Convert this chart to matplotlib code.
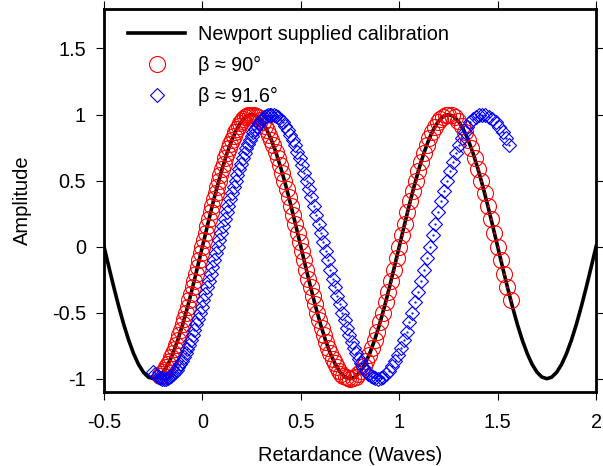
import numpy as np
import matplotlib
matplotlib.use("Agg")
import matplotlib.pyplot as plt
from matplotlib.ticker import FormatStrFormatter

plt.rcParams['font.family'] = ['Liberation Sans', 'DejaVu Sans']
plt.rcParams['axes.unicode_minus'] = False

# Newport supplied calibration curve (sampled every 0.025 waves)
cal_x = np.linspace(-0.5, 2.0, 101)
cal_y = [0, -.156, -.309, -.454, -.588, -.707, -.809, -.891, -.951, -.988,
         -1, -.988, -.951, -.891, -.809, -.707, -.588, -.454, -.309, -.156,
         0, .156, .309, .454, .588, .707, .809, .891, .951, .988,
         1, .988, .951, .891, .809, .707, .588, .454, .309, .156,
         0, -.156, -.309, -.454, -.588, -.707, -.809, -.891, -.951, -.988,
         -1, -.988, -.951, -.891, -.809, -.707, -.588, -.454, -.309, -.156,
         0, .156, .309, .454, .588, .707, .809, .891, .951, .988,
         1, .988, .951, .891, .809, .707, .588, .454, .309, .156,
         0, -.156, -.309, -.454, -.588, -.707, -.809, -.891, -.951, -.988,
         -1, -.988, -.951, -.891, -.809, -.707, -.588, -.454, -.309, -.156,
         0]

# beta ~ 90 deg measurement
red_x = [-.2167, -.2083, -.2000, -.1917, -.1833, -.1750, -.1667, -.1583, -.1500, -.1417,
         -.1333, -.1250, -.1167, -.1083, -.1000, -.0917, -.0833, -.0750, -.0667, -.0583,
         -.0500, -.0417, -.0333, -.0250, -.0167, -.0083, 0, .0083, .0167, .0250,
         .0333, .0417, .0500, .0583, .0667, .0750, .0833, .0917, .1000, .1083,
         .1167, .1250, .1333, .1417, .1500, .1583, .1667, .1750, .1833, .1917,
         .2000, .2083, .2167, .2250, .2333, .2417, .2500,
         .2611, .2722, .2833, .2944, .3056, .3167, .3278, .3389, .3500, .3611,
         .3722, .3833, .3944, .4056, .4167, .4278, .4389, .4500, .4611, .4722,
         .4833, .4944, .5056, .5167, .5278, .5389, .5500, .5611, .5722, .5833,
         .5944, .6056, .6167, .6278, .6389, .6500, .6611, .6722, .6833, .6944,
         .7056, .7167, .7278, .7389, .7500,
         .7639, .7778, .7917, .8056, .8194, .8333, .8472, .8611, .8750, .8889,
         .9028, .9167, .9306, .9444, .9583, .9722, .9861, 1.0, 1.0139, 1.0278,
         1.0417, 1.0556, 1.0694, 1.0833, 1.0972, 1.1111, 1.125, 1.1389, 1.1528, 1.1667,
         1.1806, 1.1944, 1.2083, 1.2222, 1.2361, 1.25,
         1.2667, 1.2833, 1.3, 1.3167, 1.3333, 1.35, 1.3667, 1.3833, 1.4, 1.4167,
         1.4333, 1.45, 1.4667, 1.4833, 1.5, 1.5167, 1.5333, 1.55, 1.5667]
red_y = [-.978, -.966, -.951, -.934, -.914, -.891, -.866, -.839, -.809, -.777,
         -.743, -.707, -.669, -.629, -.588, -.545, -.5, -.454, -.407, -.358,
         -.309, -.259, -.208, -.156, -.105, -.052, 0, .052, .105, .156,
         .208, .259, .309, .358, .407, .454, .5, .545, .588, .629,
         .669, .707, .743, .777, .809, .839, .866, .891, .914, .934,
         .951, .966, .978, .988, .995, .999, 1.0,
         .998, .990, .978, .961, .940, .914, .883, .848, .809, .766,
         .719, .669, .616, .559, .5, .438, .375, .309, .242, .174,
         .105, .035, -.035, -.105, -.174, -.242, -.309, -.375, -.438, -.5,
         -.559, -.616, -.669, -.719, -.766, -.809, -.848, -.883, -.914, -.940,
         -.961, -.978, -.990, -.998, -1.0,
         -.996, -.985, -.966, -.940, -.906, -.866, -.819, -.766, -.707, -.643,
         -.574, -.5, -.423, -.342, -.259, -.174, -.087, 0, .087, .174,
         .259, .342, .423, .5, .574, .643, .707, .766, .819, .866,
         .906, .940, .966, .985, .996, 1.0,
         .995, .978, .951, .914, .866, .809, .743, .669, .588, .5,
         .407, .309, .208, .105, 0, -.105, -.208, -.309, -.407]

# beta ~ 91.6 deg measurement
blue_x = [-.2495, -.2404, -.2313, -.2223, -.2132, -.2041, -.1950, -.1859, -.1768, -.1678,
          -.1587, -.1496, -.1405, -.1314, -.1223, -.1133, -.1042, -.0951, -.0860, -.0769,
          -.0678, -.0588, -.0497, -.0406, -.0315, -.0224, -.0133, -.0043, .0048, .0139,
          .0230, .0321, .0412, .0503, .0593, .0684, .0775, .0866, .0957, .1048,
          .1138, .1229, .1320, .1411, .1502, .1593, .1683, .1774, .1865, .1956,
          .2047, .2138, .2228, .2319, .2410, .2501, .2592, .2683, .2773, .2864,
          .2955, .3046, .3137, .3228, .3318, .3409, .3500,
          .362, .374, .386, .398, .410, .422, .434, .446, .458, .470,
          .482, .494, .506, .518, .530, .542, .554, .566, .578, .590,
          .602, .614, .626, .638, .650, .662, .674, .686, .698, .710,
          .722, .734, .746, .758, .770, .782, .794, .806, .818, .830,
          .842, .854, .866, .878, .890,
          .905, .919, .934, .949, .964, .978, .993, 1.008, 1.023, 1.037,
          1.052, 1.067, 1.081, 1.096, 1.111, 1.126, 1.140, 1.155, 1.170, 1.184,
          1.199, 1.214, 1.229, 1.243, 1.258, 1.273, 1.288, 1.302, 1.317, 1.332,
          1.346, 1.361, 1.376, 1.391, 1.405, 1.420,
          1.4375, 1.455, 1.4725, 1.49, 1.5075, 1.525, 1.5425, 1.56]
blue_y = [-.951, -.966, -.978, -.988, -.995, -.999, -1.0, -.999, -.995, -.988,
          -.978, -.966, -.951, -.934, -.914, -.891, -.866, -.839, -.809, -.777,
          -.743, -.707, -.669, -.629, -.588, -.545, -.5, -.454, -.407, -.358,
          -.309, -.259, -.208, -.156, -.105, -.052, 0, .052, .105, .156,
          .208, .259, .309, .358, .407, .454, .5, .545, .588, .629,
          .669, .707, .743, .777, .809, .839, .866, .891, .914, .934,
          .951, .966, .978, .988, .995, .999, 1.0,
          .998, .990, .978, .961, .940, .914, .883, .848, .809, .766,
          .719, .669, .616, .559, .5, .438, .375, .309, .242, .174,
          .105, .035, -.035, -.105, -.174, -.242, -.309, -.375, -.438, -.5,
          -.559, -.616, -.669, -.719, -.766, -.809, -.848, -.883, -.914, -.940,
          -.961, -.978, -.990, -.998, -1.0,
          -.996, -.985, -.966, -.940, -.906, -.866, -.819, -.766, -.707, -.643,
          -.574, -.5, -.423, -.342, -.259, -.174, -.087, 0, .087, .174,
          .259, .342, .423, .5, .574, .643, .707, .766, .819, .866,
          .906, .940, .966, .985, .996, 1.0,
          .996, .985, .966, .940, .906, .866, .819, .766]

x_ticks = [-0.5, 0, 0.5, 1, 1.5, 2]
y_ticks = [-1, -0.5, 0, 0.5, 1, 1.5]

fig = plt.figure(figsize=(6.03, 4.66), dpi=100)
ax = fig.add_axes([0.1725, 0.159, 0.816, 0.822])

ax.plot(cal_x, cal_y, color='black', lw=2.6, zorder=1,
        label='Newport supplied calibration')
ax.plot(red_x, red_y, ls='none', marker='o', ms=11.5, mfc='none', mec='red',
        mew=0.8, zorder=2, label='β ≈ 90°')
ax.plot(red_x, red_y, ls='none', marker='.', ms=1.2, color='red', zorder=2)
ax.plot(blue_x, blue_y, ls='none', marker='D', ms=7.2, mfc='none', mec='blue',
        mew=0.8, zorder=3, label='β ≈ 91.6°')
ax.plot(blue_x, blue_y, ls='none', marker='.', ms=1.2, color='blue', zorder=3)

ax.set_xlim(-0.5, 2)
ax.set_ylim(-1.1, 1.8)
ax.set_xticks(x_ticks)
ax.set_yticks(y_ticks)
ax.xaxis.set_major_formatter(FormatStrFormatter('%g'))
ax.yaxis.set_major_formatter(FormatStrFormatter('%g'))
ax.tick_params(direction='out', length=6, width=0.8, top=True, right=True,
               labelsize=14.3)
ax.tick_params(axis='x', pad=9)
ax.tick_params(axis='y', pad=7)
for s in ax.spines.values():
    s.set_linewidth(2)

ax.set_xlabel('Retardance (Waves)', fontsize=14.5, labelpad=10)
ax.set_ylabel('Amplitude', fontsize=14.5, labelpad=14)

ax.legend(loc='upper left', bbox_to_anchor=(0.02, 0.995), frameon=False,
          fontsize=14.3, handlelength=2.9, handletextpad=0.65, labelspacing=0.62,
          borderaxespad=0.3)

fig.savefig('out.png', dpi=100)
